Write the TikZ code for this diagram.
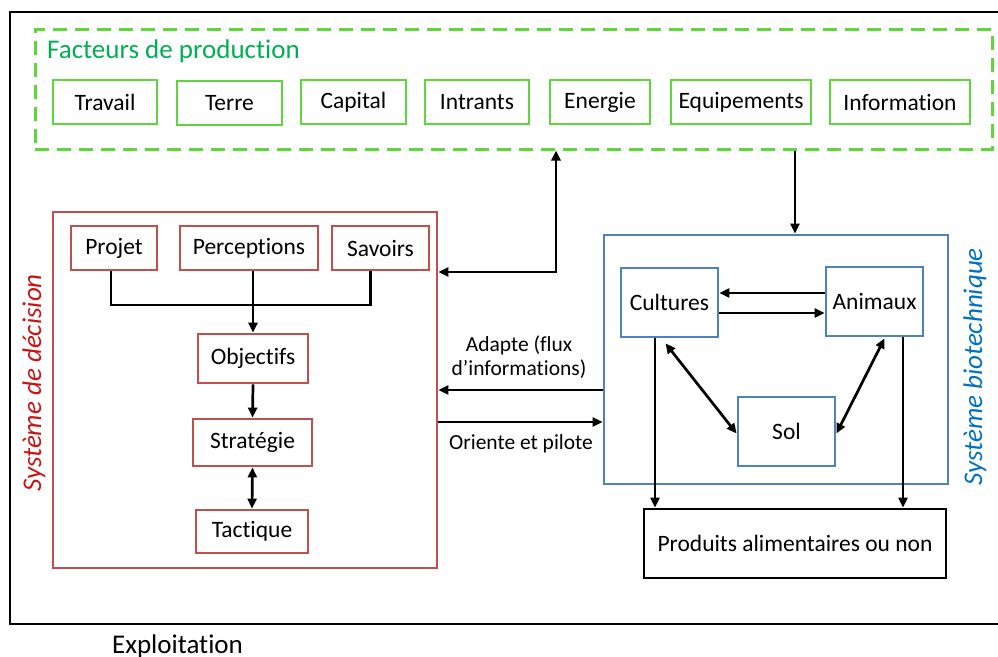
\documentclass[tikz,border=0pt]{standalone}
\usepackage{fontspec}
\setmainfont{Carlito}[Ligatures=NoCommon]
\usepackage{xcolor}
\usepackage{tikz}
\usetikzlibrary{arrows.meta}

\definecolor{vertTitre}{RGB}{0,176,80}
\definecolor{vertCadre}{RGB}{95,215,60}
\definecolor{rougeCadre}{RGB}{192,80,77}
\definecolor{rougeTitre}{RGB}{200,20,20}
\definecolor{bleuCadre}{RGB}{79,129,189}
\definecolor{bleuTitre}{RGB}{0,112,192}

\newcommand{\policeTitre}{\fontsize{27}{30}\selectfont}
\newcommand{\policeBoite}{\fontsize{23.5}{26}\selectfont}
\newcommand{\policeFlux}{\fontsize{21.5}{24}\selectfont}

\tikzset{
  facteur/.style={draw=vertCadre,line width=2.8pt,minimum height=44pt,inner sep=0pt,font=\policeBoite},
  decision/.style={draw=rougeCadre,line width=2.8pt,inner sep=0pt,font=\policeBoite},
  biotech/.style={draw=bleuCadre,line width=2.8pt,inner sep=0pt,font=\policeBoite},
  cadre/.style={line width=2.8pt,inner sep=0pt},
  fleche/.style={line width=2.7pt,black}
}

\begin{document}
\begin{tikzpicture}[x=1pt,y=-1pt,>={Triangle[length=10pt,width=9pt]}]
\clip (0,0) rectangle (998,656);
\draw[line width=2.8pt,black] (10,12) rectangle (1012,624);
\node[anchor=base west,inner sep=0pt,font=\policeTitre] (exploitation) at (112,653) {Exploitation};

% facteurs de production
\node[cadre,draw=vertCadre,line width=3pt,dash pattern=on 14pt off 8pt,minimum width=957pt,minimum height=120pt] (facteurs) at (513.5,89) {};
\node[anchor=west,inner sep=0pt,text=vertTitre,font=\policeTitre] (titreFacteurs) at (47,51) {Facteurs de production};
\node[facteur,minimum width=104pt] (travail) at (105,102) {Travail};
\node[facteur,minimum width=105pt] (terre) at (229.5,103) {Terre};
\node[facteur,minimum width=105pt] (capital) at (353.5,102) {Capital};
\node[facteur,minimum width=104pt] (intrants) at (477,102) {Intrants};
\node[facteur,minimum width=100pt] (energie) at (600,102) {Energie};
\node[facteur,minimum width=140pt] (equipements) at (741,102) {Equipements};
\node[facteur,minimum width=140pt] (information) at (900,102) {Information};

% systeme de decision
\node[cadre,draw=rougeCadre,minimum width=384pt,minimum height=356pt] (sysDecision) at (245,390) {};
\node[rotate=90,inner sep=0pt,text=rougeTitre,font=\policeTitre\itshape] (titreDecision) at (34,383) {Système de décision};
\node[decision,minimum width=86pt,minimum height=44pt] (projet) at (114,248) {Projet};
\node[decision,minimum width=138pt,minimum height=44pt] (perceptions) at (249,248) {Perceptions};
\node[decision,minimum width=97pt,minimum height=44pt] (savoirs) at (380.5,248) {Savoirs};
\node[decision,minimum width=110pt,minimum height=49pt] (objectifs) at (253,358.5) {Objectifs};
\node[decision,minimum width=119pt,minimum height=47pt] (strategie) at (252.5,442.5) {Stratégie};
\node[decision,minimum width=112pt,minimum height=43pt] (tactique) at (252,531.5) {Tactique};

\coordinate (jonction) at (253,305);
\draw[fleche] ([xshift=-3pt]projet.south) |- (jonction) -| ([xshift=-10pt]savoirs.south);
\draw[fleche,->] (perceptions.south -| jonction) -- (objectifs.north);
\draw[fleche,->] (objectifs.south) -- (strategie.north);
\draw[fleche,<->] (strategie.south) -- (tactique.north);

% systeme biotechnique
\node[cadre,draw=bleuCadre,minimum width=344pt,minimum height=249pt] (sysBiotech) at (776,359.5) {};
\node[rotate=90,inner sep=0pt,text=bleuTitre,font=\policeTitre\itshape] (titreBiotech) at (975,367) {Système biotechnique};
\node[biotech,minimum width=97pt,minimum height=69pt] (cultures) at (669.5,302.5) {Cultures};
\node[biotech,minimum width=97pt,minimum height=69pt] (animaux) at (874.5,301.5) {Animaux};
\node[biotech,minimum width=97pt,minimum height=69pt] (sol) at (786.5,431.5) {Sol};
\node[cadre,draw=black,minimum width=302pt,minimum height=69pt,font=\policeBoite] (produits) at (795,543.5) {Produits alimentaires ou non};

\draw[fleche,->] (animaux.west |- 0,293) -- (cultures.east |- 0,293);
\draw[fleche,->] (cultures.east |- 0,313) -- (animaux.west |- 0,313);
\draw[fleche,<->] ([shift={(-4pt,-5pt)}]cultures.south) -- ([yshift=-2pt]sol.west);
\draw[fleche,<->] ([shift={(10pt,-1pt)}]animaux.south) -- ([yshift=-2pt]sol.east);
\draw[fleche,->] (cultures.south -| 655,0) -- (produits.north -| 655,0);
\draw[fleche,->] (animaux.south -| 903,0) -- (produits.north -| 903,0);

% liens entre les systemes
\draw[fleche,<->] (sysDecision.east |- 0,272) -| (facteurs.south -| 556,0);
\draw[fleche,->] (facteurs.south -| 795,0) -- (sysBiotech.north -| 795,0);
\draw[fleche,->] (sysBiotech.west |- 0,390) -- (sysDecision.east |- 0,390);
\draw[fleche,->] (sysDecision.east |- 0,422) -- (sysBiotech.west |- 0,422);
\node[align=center,font=\policeFlux] (adapte) at (519,357) {Adapte (flux\\d’informations)};
\node[font=\policeFlux] (oriente) at (521,444) {Oriente et pilote};
\end{tikzpicture}
\end{document}
